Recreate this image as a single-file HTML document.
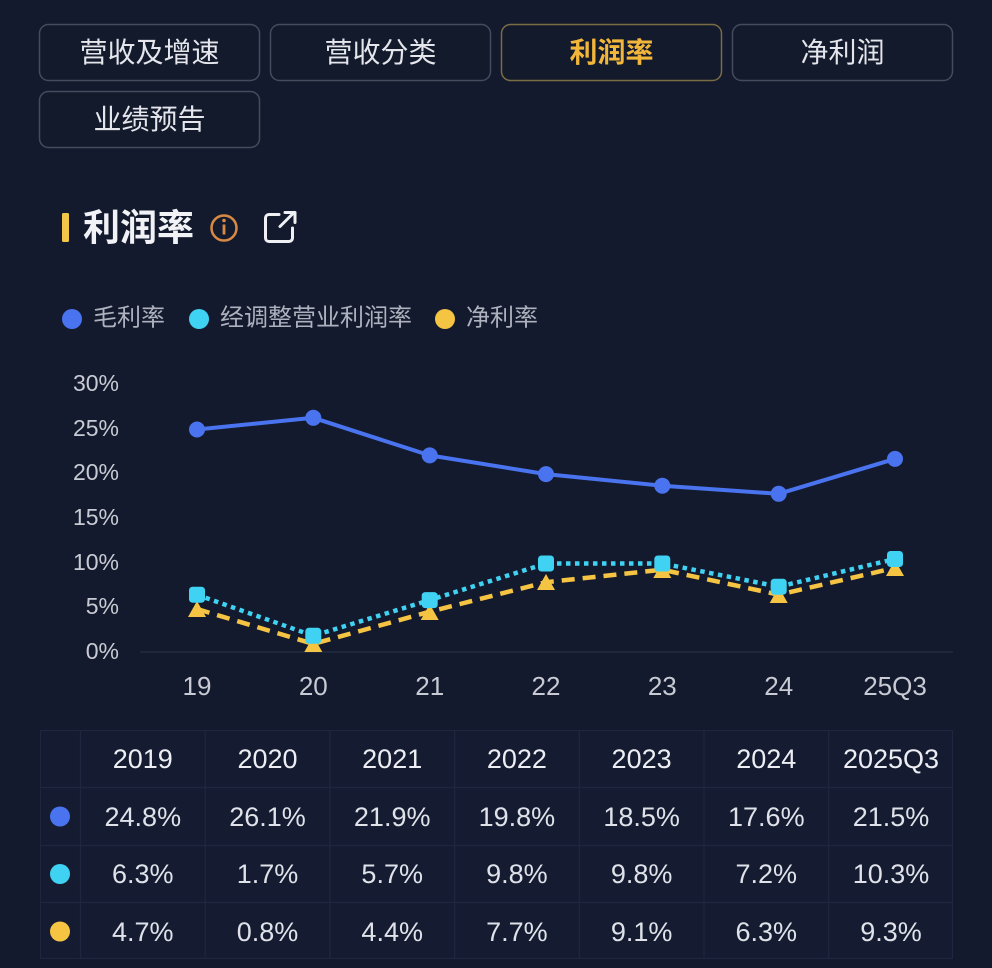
<!DOCTYPE html>
<html>
<head>
<meta charset="utf-8">
<style>
  html,body{margin:0;padding:0;background:#141a2d;}
  body{width:992px;height:968px;overflow:hidden;}
  svg{display:block;font-family:"Liberation Sans","Noto Sans CJK SC",sans-serif;}
</style>
</head>
<body>
<svg width="992" height="968" viewBox="0 0 992 968" xmlns="http://www.w3.org/2000/svg">
  <rect x="0" y="0" width="992" height="968" fill="#141a2d"/>

  <!-- Tab buttons -->
  <g font-size="28" text-anchor="middle" dominant-baseline="central">
    <rect x="39.5" y="24.5" width="220" height="56" rx="9" fill="#131a2c" stroke="#444b5d" stroke-width="1.5"/>
    <text x="149.5" y="52.5" fill="#e4e6ec">营收及增速</text>
    <rect x="270.5" y="24.5" width="220" height="56" rx="9" fill="#131a2c" stroke="#444b5d" stroke-width="1.5"/>
    <text x="380.5" y="52.5" fill="#e4e6ec">营收分类</text>
    <rect x="501.5" y="24.5" width="220" height="56" rx="9" fill="#131a2c" stroke="#7a6c45" stroke-width="1.5"/>
    <text x="611.5" y="52.5" fill="#f2b73a" font-weight="bold">利润率</text>
    <rect x="732.5" y="24.5" width="220" height="56" rx="9" fill="#131a2c" stroke="#444b5d" stroke-width="1.5"/>
    <text x="842.5" y="52.5" fill="#e4e6ec">净利润</text>
    <rect x="39.5" y="91.5" width="220" height="56" rx="9" fill="#131a2c" stroke="#444b5d" stroke-width="1.5"/>
    <text x="149.5" y="119.5" fill="#e4e6ec">业绩预告</text>
  </g>

  <!-- Title -->
  <rect x="62" y="213" width="7" height="29" rx="1.5" fill="#f3c64a"/>
  <text x="83" y="228" font-size="37" font-weight="bold" fill="#f0f2f6" dominant-baseline="central">利润率</text>
  <circle cx="224" cy="228" r="12.5" fill="none" stroke="#d88a44" stroke-width="2.5"/>
  <circle cx="224" cy="220.5" r="1.8" fill="#d88a44"/>
  <rect x="222.6" y="224.5" width="2.8" height="10" fill="#d88a44"/>
  <!-- external link icon -->
  <path d="M279 214.5 H269 a3.5 3.5 0 0 0 -3.5 3.5 V238 a3.5 3.5 0 0 0 3.5 3.5 H289 a3.5 3.5 0 0 0 3.5 -3.5 V228" fill="none" stroke="#eef0f4" stroke-width="3" stroke-linecap="round"/>
  <path d="M280 226.5 L294 212.5 M285 212.5 H295 V222.5" fill="none" stroke="#eef0f4" stroke-width="3" stroke-linecap="round" stroke-linejoin="round"/>

  <!-- Legend -->
  <g font-size="24" fill="#aeb2be" dominant-baseline="central">
    <circle cx="72" cy="319" r="10" fill="#4a74ef"/>
    <text x="93" y="318">毛利率</text>
    <circle cx="199" cy="319" r="10" fill="#3fd2f2"/>
    <text x="220" y="318">经调整营业利润率</text>
    <circle cx="445" cy="319" r="10" fill="#f6c443"/>
    <text x="466" y="318">净利率</text>
  </g>

  <!-- Y axis labels -->
  <g font-size="23" fill="#c8cbd4" text-anchor="end" dominant-baseline="central">
    <text x="119" y="383">30%</text>
    <text x="119" y="428">25%</text>
    <text x="119" y="472">20%</text>
    <text x="119" y="517">15%</text>
    <text x="119" y="562">10%</text>
    <text x="119" y="606">5%</text>
    <text x="119" y="651">0%</text>
  </g>
  <!-- axis line -->
  <line x1="140" y1="652" x2="953" y2="652" stroke="#222a40" stroke-width="1.5"/>

  <!-- X labels -->
  <g font-size="26" fill="#c8cbd4" text-anchor="middle" dominant-baseline="central">
    <text x="197" y="686">19</text>
    <text x="313.3" y="686">20</text>
    <text x="429.7" y="686">21</text>
    <text x="546" y="686">22</text>
    <text x="662.3" y="686">23</text>
    <text x="778.7" y="686">24</text>
    <text x="895" y="686">25Q3</text>
  </g>

  <!-- Gross margin line -->
  <polyline points="197,429.5 313.3,417.8 429.7,455.4 546,474.1 662.3,485.7 778.7,493.8 895,458.9" fill="none" stroke="#4a74ef" stroke-width="4" stroke-linejoin="round"/>
  <g fill="#4a74ef">
    <circle cx="197" cy="429.5" r="8"/>
    <circle cx="313.3" cy="417.8" r="8"/>
    <circle cx="429.7" cy="455.4" r="8"/>
    <circle cx="546" cy="474.1" r="8"/>
    <circle cx="662.3" cy="485.7" r="8"/>
    <circle cx="778.7" cy="493.8" r="8"/>
    <circle cx="895" cy="458.9" r="8"/>
  </g>

  <!-- Net margin (yellow dashed, triangles) -->
  <polyline points="197,609 313.3,643.9 429.7,611.7 546,582.2 662.3,569.7 778.7,594.7 895,567.9" fill="none" stroke="#f6c443" stroke-width="4.5" stroke-dasharray="13,8"/>
  <g fill="#f6c443">
    <polygon points="197,601 206,617 188,617"/>
    <polygon points="313.3,636 322.3,652 304.3,652"/>
    <polygon points="429.7,604 438.7,620 420.7,620"/>
    <polygon points="546,574 555,590 537,590"/>
    <polygon points="662.3,562 671.3,578 653.3,578"/>
    <polygon points="778.7,587 787.7,603 769.7,603"/>
    <polygon points="895,560 904,576 886,576"/>
  </g>

  <!-- Adjusted operating margin (cyan dotted, squares) -->
  <polyline points="197,594.7 313.3,635.8 429.7,600.1 546,563.5 662.3,563.5 778.7,586.7 895,559" fill="none" stroke="#3fd2f2" stroke-width="4.5" stroke-dasharray="4.5,4.5"/>
  <g fill="#3fd2f2">
    <rect x="189" y="586.7" width="16" height="16" rx="3.5"/>
    <rect x="305.3" y="627.8" width="16" height="16" rx="3.5"/>
    <rect x="421.7" y="592.1" width="16" height="16" rx="3.5"/>
    <rect x="538" y="555.5" width="16" height="16" rx="3.5"/>
    <rect x="654.3" y="555.5" width="16" height="16" rx="3.5"/>
    <rect x="770.7" y="578.7" width="16" height="16" rx="3.5"/>
    <rect x="887" y="551" width="16" height="16" rx="3.5"/>
  </g>

  <!-- Table -->
  <g fill="#151c31" stroke="#1f2740" stroke-width="1">
    <rect x="40.5" y="730.5" width="912" height="228"/>
  </g>
  <g stroke="#1f2740" stroke-width="1.2">
    <line x1="40" y1="787.5" x2="953" y2="787.5"/>
    <line x1="40" y1="845.5" x2="953" y2="845.5"/>
    <line x1="40" y1="902.5" x2="953" y2="902.5"/>
    <line x1="80.5" y1="730" x2="80.5" y2="959"/>
    <line x1="205.2" y1="730" x2="205.2" y2="959"/>
    <line x1="329.9" y1="730" x2="329.9" y2="959"/>
    <line x1="454.6" y1="730" x2="454.6" y2="959"/>
    <line x1="579.3" y1="730" x2="579.3" y2="959"/>
    <line x1="704" y1="730" x2="704" y2="959"/>
    <line x1="828.7" y1="730" x2="828.7" y2="959"/>
  </g>
  <circle cx="60" cy="816.5" r="10" fill="#4a74ef"/>
  <circle cx="60" cy="874" r="10" fill="#3fd2f2"/>
  <circle cx="60" cy="931.5" r="10" fill="#f6c443"/>

  <g font-size="27" fill="#eceef3" text-anchor="middle" dominant-baseline="central">
    <text x="142.8" y="759">2019</text>
    <text x="267.5" y="759">2020</text>
    <text x="392.2" y="759">2021</text>
    <text x="516.9" y="759">2022</text>
    <text x="641.6" y="759">2023</text>
    <text x="766.3" y="759">2024</text>
    <text x="891" y="759">2025Q3</text>
  </g>
  <g font-size="27" fill="#dfe2e9" text-anchor="middle" dominant-baseline="central">
    <text x="142.8" y="817">24.8%</text>
    <text x="267.5" y="817">26.1%</text>
    <text x="392.2" y="817">21.9%</text>
    <text x="516.9" y="817">19.8%</text>
    <text x="641.6" y="817">18.5%</text>
    <text x="766.3" y="817">17.6%</text>
    <text x="891" y="817">21.5%</text>

    <text x="142.8" y="874">6.3%</text>
    <text x="267.5" y="874">1.7%</text>
    <text x="392.2" y="874">5.7%</text>
    <text x="516.9" y="874">9.8%</text>
    <text x="641.6" y="874">9.8%</text>
    <text x="766.3" y="874">7.2%</text>
    <text x="891" y="874">10.3%</text>

    <text x="142.8" y="932">4.7%</text>
    <text x="267.5" y="932">0.8%</text>
    <text x="392.2" y="932">4.4%</text>
    <text x="516.9" y="932">7.7%</text>
    <text x="641.6" y="932">9.1%</text>
    <text x="766.3" y="932">6.3%</text>
    <text x="891" y="932">9.3%</text>
  </g>
</svg>
</body>
</html>
